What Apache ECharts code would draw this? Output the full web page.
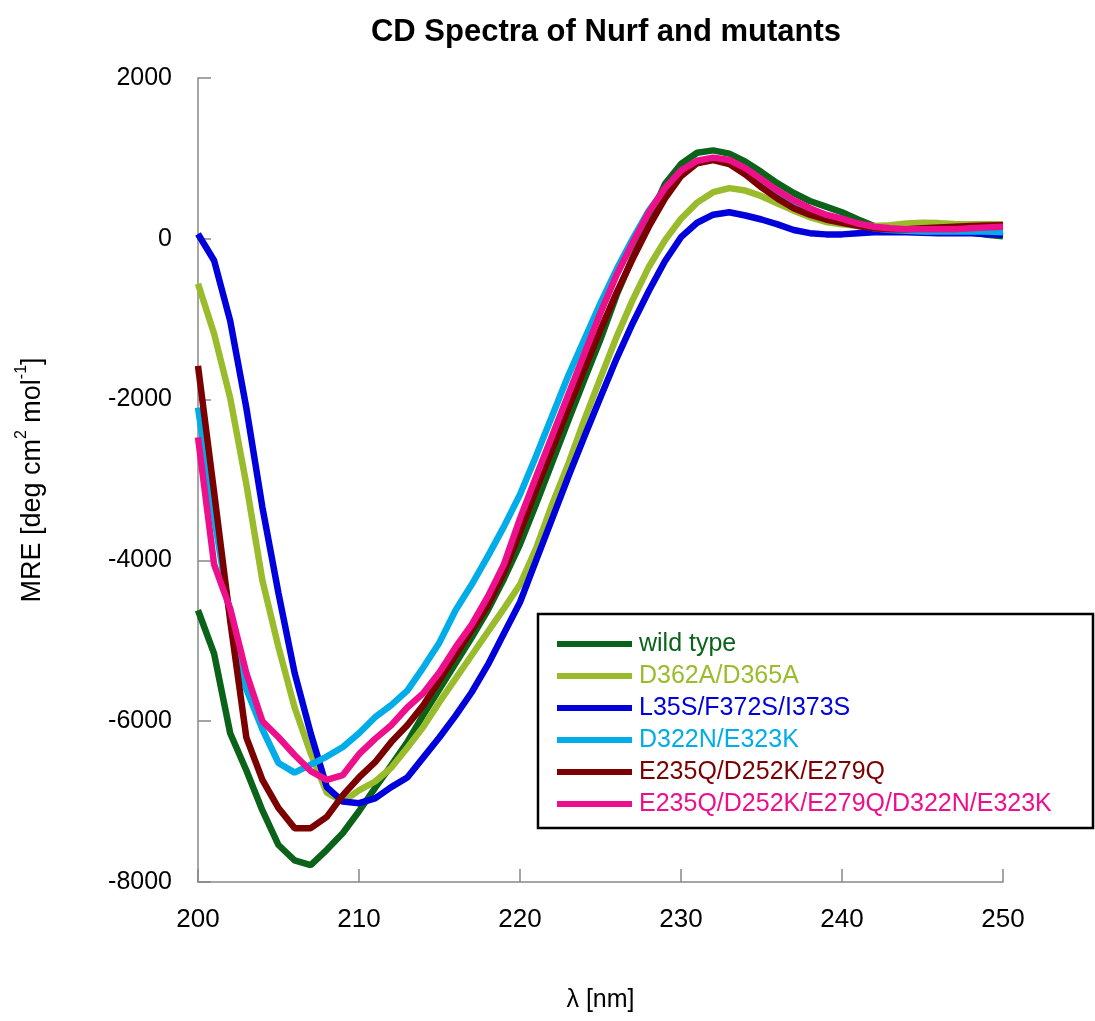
<!DOCTYPE html>
<html>
<head>
<meta charset="utf-8">
<script src="https://cdn.jsdelivr.net/npm/echarts@6/dist/echarts.min.js"></script>
<style>
html,body{margin:0;padding:0;background:#fff;}
#chart{width:1095px;height:1021px;}
</style>
</head>
<body>
<div id="chart"></div>
<script>
var wavelengths = [200,201,202,203,204,205,206,207,208,209,210,211,212,213,214,215,216,217,218,219,220,221,222,223,224,225,226,227,228,229,230,231,232,233,234,235,236,237,238,239,240,241,242,243,244,245,246,247,248,249,250];

var seriesNames = ['wild type','D362A/D365A','L35S/F372S/I373S','D322N/E323K','E235Q/D252K/E279Q','E235Q/D252K/E279Q/D322N/E323K'];

var wildType = [-4620,-5160,-6150,-6610,-7110,-7540,-7730,-7790,-7600,-7390,-7120,-6830,-6550,-6260,-5920,-5600,-5280,-4960,-4620,-4230,-3800,-3300,-2780,-2260,-1750,-1250,-700,-230,240,680,930,1070,1100,1060,960,830,690,570,470,400,330,240,160,140,130,130,120,110,80,50,30];
var d362a = [-560,-1180,-1980,-3050,-4250,-5080,-5830,-6400,-6890,-7000,-6860,-6750,-6580,-6330,-6070,-5760,-5470,-5180,-4890,-4600,-4300,-3850,-3300,-2800,-2250,-1730,-1220,-760,-350,-20,250,450,580,630,600,530,440,350,270,210,180,160,160,170,190,200,195,185,180,180,180];
var l35s = [60,-270,-1020,-2100,-3340,-4410,-5400,-6150,-6820,-7000,-7020,-6960,-6820,-6700,-6450,-6200,-5930,-5640,-5300,-4910,-4520,-4000,-3480,-2960,-2460,-1970,-1490,-1050,-650,-280,20,200,300,330,290,240,180,110,70,55,55,70,80,80,80,75,70,70,70,60,50];
var d322n = [-2100,-3450,-4700,-5600,-6100,-6520,-6640,-6540,-6440,-6320,-6150,-5950,-5800,-5620,-5330,-5020,-4620,-4300,-3950,-3580,-3180,-2700,-2200,-1700,-1250,-800,-380,0,350,620,830,950,990,960,860,720,580,460,360,280,220,170,130,110,100,90,90,90,90,90,80];
var e235q = [-1580,-3150,-4750,-6200,-6730,-7080,-7330,-7330,-7190,-6920,-6700,-6510,-6260,-6050,-5800,-5490,-5180,-4870,-4560,-4150,-3650,-3120,-2620,-2110,-1620,-1130,-670,-250,150,500,780,940,980,930,800,640,500,380,300,240,200,160,130,120,120,130,140,150,160,165,170];
var e235qd322n = [-2470,-4050,-4600,-5400,-6000,-6200,-6420,-6620,-6730,-6670,-6410,-6220,-6050,-5830,-5650,-5390,-5080,-4800,-4450,-4050,-3480,-2960,-2450,-1940,-1430,-920,-450,-50,330,630,850,970,1010,980,880,740,600,480,380,300,250,190,150,130,120,120,120,120,130,140,150];

var xTicks = [200,210,220,230,240,250];
var yTicks = [-8000,-6000,-4000,-2000,0,2000];

var colors = ['#0b6319','#9abb2c','#0000dc','#00ade9','#7b0000','#ee0f8c'];
var allValues = [wildType,d362a,l35s,d322n,e235q,e235qd322n];
var FONT = 'Liberation Sans, Arial, sans-serif';

function pairs(vals){ return wavelengths.map(function(w,i){ return [w, vals[i]]; }); }

var chart = echarts.init(document.getElementById('chart'), null, {renderer:'canvas'});
var series = seriesNames.map(function(n,i){
  return {
    name:n, type:'line', data:pairs(allValues[i]), showSymbol:false, symbol:'none',
    smooth:false, lineStyle:{width:6.5,color:colors[i]}, itemStyle:{color:colors[i]},
    z: 10 + i, animation:false
  };
});
var option = {
  backgroundColor:'#fff',
  animation:false,
  title:{text:'CD Spectra of Nurf and mutants', left:601, textAlign:'center', top:12,
    textStyle:{fontFamily:FONT, fontWeight:'bold', fontSize:31, color:'#000'}},
  grid:{left:198, right:92, top:78, bottom:139, containLabel:false, outerBoundsMode:'none'},
  xAxis:{type:'value', min:200, max:250, interval:10,
    name:'λ [nm]', nameLocation:'middle', nameGap:106,
    nameTextStyle:{fontFamily:FONT, fontSize:25, color:'#000'},
    axisLine:{show:true, onZero:false, lineStyle:{color:'#888', width:1.5}},
    axisTick:{show:true, inside:true, length:13, lineStyle:{color:'#888', width:1.5}},
    axisLabel:{fontFamily:FONT, fontSize:26, color:'#000', margin:25,
      formatter:function(v){ return String(v); }},
    splitLine:{show:false}},
  yAxis:{type:'value', min:-8000, max:2000, interval:2000,
    name:'{n|MRE [deg cm}{s|2}{n| mol}{s|-1}{n|]}', nameLocation:'middle', nameGap:152, nameRotate:90,
    nameTextStyle:{fontFamily:FONT, fontSize:27, color:'#000',
      rich:{n:{fontFamily:FONT, fontSize:27, color:'#000', verticalAlign:'bottom', lineHeight:32},
            s:{fontFamily:FONT, fontSize:16, color:'#000', verticalAlign:'top', lineHeight:32}}},
    axisLine:{show:true, onZero:false, lineStyle:{color:'#888', width:1.5}},
    axisTick:{show:true, inside:true, length:13, lineStyle:{color:'#888', width:1.5}},
    axisLabel:{fontFamily:FONT, fontSize:25, color:'#000', margin:26,
      formatter:function(v){ return String(v); }},
    splitLine:{show:false}},
  legend:{orient:'vertical', left:552, top:626, itemWidth:75, itemHeight:6, itemGap:6,
    icon:'rect', z:20,
    data: seriesNames.map(function(n,i){ return {name:n, textStyle:{color:colors[i]}}; }),
    textStyle:{fontFamily:FONT, fontSize:25, lineHeight:26, padding:[0,0,0,2]},
    selectedMode:false},
  graphic:[{type:'rect', z:1, shape:{x:538, y:614, width:555, height:214}, style:{fill:'#fff', stroke:'#000', lineWidth:2.5}}],
  series: series
};
chart.setOption(option);
</script>
</body>
</html>
